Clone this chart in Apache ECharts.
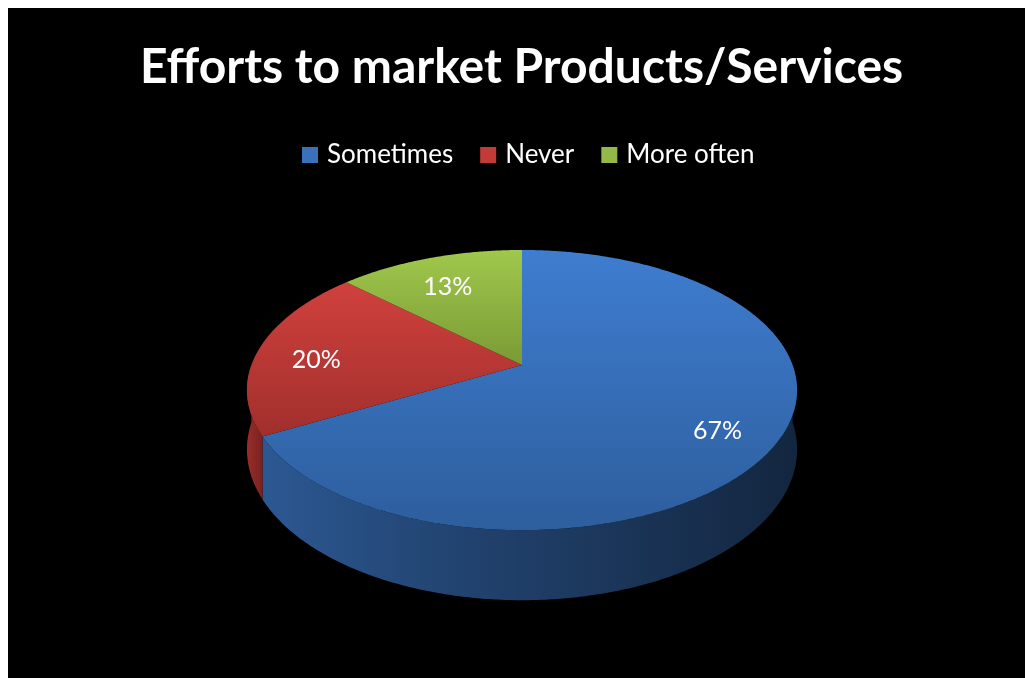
<!DOCTYPE html>
<html>
<head>
<meta charset="utf-8">
<title>Efforts to market Products/Services</title>
<script src="https://cdn.jsdelivr.net/npm/echarts@6/dist/echarts.min.js"></script>
<style>
  html, body { margin: 0; padding: 0; background: #ffffff; }
  #chart { position: absolute; left: 0; top: 0; width: 1025px; height: 678px; }
</style>
</head>
<body>
<div id="chart"></div>
<script>
// Survey answers: how often products/services are marketed (percent of respondents)
const categories = ['Sometimes', 'Never', 'More often'];
const shares = [67, 20, 13];

// Slice colours: [legend swatch, top face light, top face dark, wall light, wall dark]
const palette = [
  ['#3a71ba', '#3f7dd0', '#2d5e9d', '#2c5892', '#13263f'],
  ['#c23b38', '#d0413d', '#a12f2c', '#9c2d2a', '#7a2220'],
  ['#93b948', '#a0c84c', '#7a9a35', '#7f9f37', '#5e7a28']
];

// Tilted disc projection: centre of the disc, radius, vertical squash,
// perspective strength and wall thickness.
const CX = 522, CY = 365, RX = 270.6, RY = 135.6, PERSP = 0.179, DEPTH = 57.5;

function topPoint(theta, r) {
  const u = r * Math.cos(theta), v = r * Math.sin(theta);
  const w = 1 + PERSP * v;
  return [CX + RX * u / w, CY - RY * v / w];
}
function bottomPoint(theta) {
  const v = Math.sin(theta);
  const w = 1 + PERSP * v;
  const p = topPoint(theta, 1);
  return [p[0], p[1] + DEPTH / w];
}
function arc(from, to, fn) {
  const pts = [];
  const n = Math.max(2, Math.ceil(Math.abs(to - from) / (Math.PI / 360)));
  for (let k = 0; k <= n; k++) pts.push(fn(from + (to - from) * k / n));
  return pts;
}
const total = shares.reduce((a, b) => a + b, 0);
const deg = Math.PI / 180;

function renderSlice(params, api) {
  const i = params.seriesIndex;
  const value = api.value(0);
  const before = shares.slice(0, i).reduce((a, b) => a + b, 0);
  // slices run clockwise from twelve o'clock
  const tStart = (90 - 360 * before / total) * deg;
  const tEnd = (90 - 360 * (before + value) / total) * deg;
  const col = palette[i];
  const children = [];

  // outer wall: only the part on the near half of the disc is visible
  for (let k = -1; k <= 1; k++) {
    const lo = Math.max(tEnd, (-180 + 360 * k) * deg);
    const hi = Math.min(tStart, (360 * k) * deg);
    if (hi - lo > 1e-6) {
      const top = arc(lo, hi, t => topPoint(t, 1));
      const bot = arc(hi, lo, bottomPoint);
      children.push({
        type: 'polygon',
        z2: 1,
        shape: { points: top.concat(bot) },
        style: {
          fill: new echarts.graphic.LinearGradient(0, 0, 1, 0, [
            { offset: 0, color: col[3] },
            { offset: 0.35, color: echarts.color.lerp(0.4, [col[3], col[4]]) },
            { offset: 1, color: col[4] }
          ])
        }
      });
    }
  }

  // top face
  const face = [[CX, CY]].concat(arc(tStart, tEnd, t => topPoint(t, 1)));
  children.push({
    type: 'polygon',
    z2: 10,
    shape: { points: face },
    style: {
      fill: new echarts.graphic.LinearGradient(0, 0, 0, 1, [
        { offset: 0, color: col[1] },
        { offset: 1, color: col[2] }
      ])
    }
  });

  // percentage label
  const mid = (tStart + tEnd) / 2;
  const lp = topPoint(mid, 0.78);
  children.push({
    type: 'text',
    z2: 20,
    x: lp[0],
    y: lp[1] + 8,
    style: {
      text: Math.round(value / total * 100) + '%',
      fill: '#ffffff',
      font: '25px Lato',
      align: 'center',
      verticalAlign: 'middle'
    }
  });
  return { type: 'group', children: children };
}

const chart = echarts.init(document.getElementById('chart'), null, { renderer: 'canvas' });
chart.setOption({
  animation: false,
  backgroundColor: '#ffffff',
  graphic: [
    {
      type: 'rect', z: -10, silent: true,
      shape: { x: 8, y: 8, width: 1017, height: 670 },
      style: { fill: '#000000' }
    },
    {
      type: 'text', z: 10,
      x: 521.5, y: 68,
      style: {
        text: 'Efforts to market Products/Services',
        fill: '#ffffff',
        font: 'bold 48px Lato',
        align: 'center',
        verticalAlign: 'middle'
      }
    }
  ],
  legend: {
    data: categories,
    left: 297,
    top: 137,
    icon: 'rect',
    itemWidth: 16,
    itemHeight: 16,
    itemGap: 27,
    textStyle: { color: '#ffffff', fontFamily: 'Lato', fontSize: 26, padding: [0, 0, 0, 4] }
  },
  series: categories.map((name, i) => ({
    type: 'custom',
    name: name,
    coordinateSystem: 'none',
    itemStyle: { color: palette[i][0] },
    renderItem: renderSlice,
    data: [shares[i]]
  }))
});
</script>
</body>
</html>
